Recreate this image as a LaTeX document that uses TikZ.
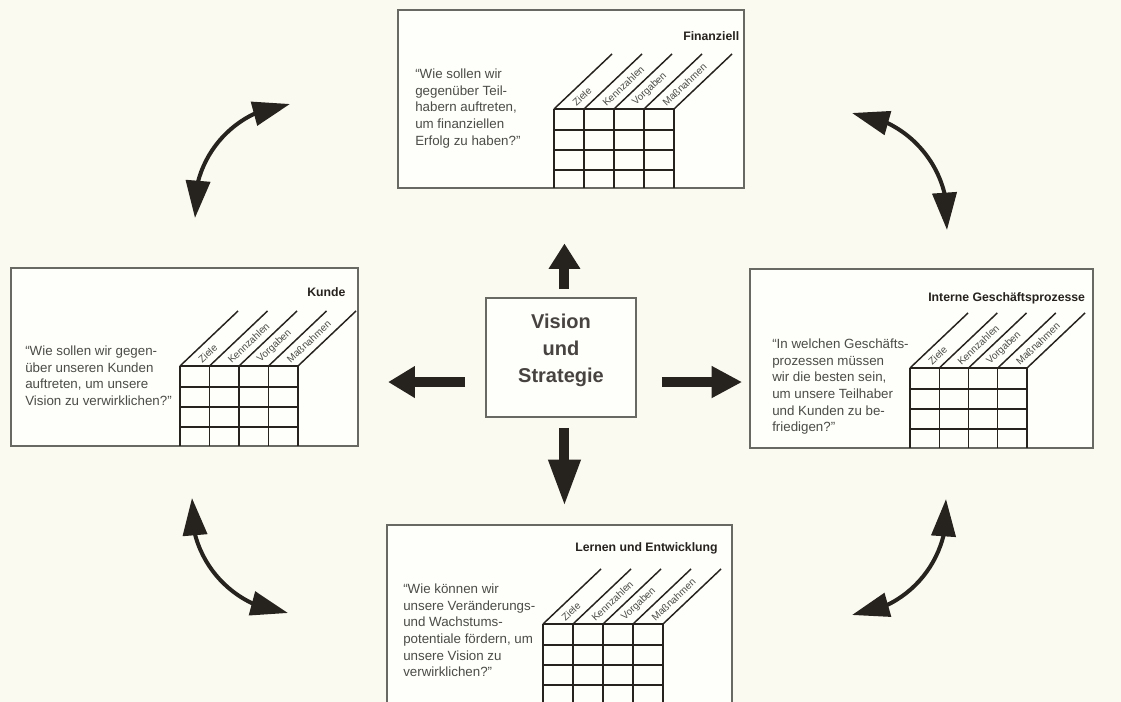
\documentclass[tikz,border=0pt]{standalone}
\usepackage{fontspec}
\setmainfont{Liberation Sans}
\usetikzlibrary{arrows.meta,fit,bending}
\definecolor{bgc}{RGB}{251,250,241}
\definecolor{boxfill}{RGB}{254,254,250}
\definecolor{ink}{RGB}{38,34,30}
\definecolor{boxline}{RGB}{105,105,100}
\definecolor{txt}{RGB}{75,75,72}
\tikzset{
  bscbox/.style={draw=boxline, line width=1.2pt, fill=boxfill, inner sep=0pt},
  visbox/.style={draw=boxline, line width=1.2pt, fill=boxfill, inner sep=0pt,
    align=center, font=\bfseries\fontsize{15}{20}\selectfont, text=ink!85},
  gridline/.style={draw=ink, line width=1.1pt},
  collabel/.style={anchor=west, rotate=43.5, inner sep=0pt, text=txt,
    font=\fontsize{7.5}{8}\selectfont},
  ttl/.style={inner sep=0pt, anchor=base west, text=ink, font=\bfseries\fontsize{9.2}{11}\selectfont},
  quest/.style={anchor=north west, inner sep=0pt, align=left, text=txt,
    font=\fontsize{10}{12.5}\selectfont},
  fat/.style={draw=ink, line width=7.5pt},
  curvy/.style={draw=ink, line width=3pt,
    {Triangle[length=28pt,width=18pt]}-{Triangle[length=28pt,width=18pt]}},
}
% #1 name, #2 X0, #3 T, #4 column width, #5 bottom
\newcommand\bscgrid[5]{%
  \foreach \i in {0,...,4} {\draw[gridline] ({#2+\i*#4},#3) -- ({#2+\i*#4},#5);}
  \foreach \r in {0,21,41,61} {\draw[gridline] (#2,{#3+\r}) -- ({#2+4*#4},{#3+\r});}
  \foreach \i in {0,...,4} {\draw[gridline] ({#2+\i*#4},#3) -- ++(58,-55);}
  \foreach \lab [count=\i from 0] in {Ziele,Kennzahlen,Vorgaben,Maßnahmen}
    {\node[collabel] (#1-c\i) at ({#2+\i*#4+#4/2+5},{#3-4.8}) {\lab};}
}
\begin{document}
\begin{tikzpicture}[x=0.75pt,y=-0.75pt]
\useasboundingbox (0,0) rectangle (1121,702);
\clip (0,0) rectangle (1121,702);
\fill[bgc] (0,0) rectangle (1121,702);

% perspective boxes
\node[bscbox, fit={(398,10)(744,188)}] (fin) {};
\node[bscbox, fit={(11,268)(358,446)}] (kun) {};
\node[bscbox, fit={(750,269)(1093,448)}] (int) {};
\node[bscbox, fit={(387,525)(732,715)}] (ler) {};

\bscgrid{fin}{554}{109}{30}{188}
\bscgrid{kun}{180}{366}{29.5}{446}
\bscgrid{int}{910}{368}{29.25}{448}
\bscgrid{ler}{543}{624}{30}{715}

\node[ttl] (fin-t) at (683,41) {Finanziell};
\node[ttl] (kun-t) at (307,297) {Kunde};
\node[ttl] (int-t) at (928,302) {Interne Geschäftsprozesse};
\node[ttl] (ler-t) at (575,551) {Lernen und Entwicklung};

\node[quest] (fin-q) at (415,68.5)
  {“Wie sollen wir\\gegenüber Teil-\\habern auftreten,\\um finanziellen\\Erfolg zu haben?”};
\node[quest] (kun-q) at (25,345.5)
  {“Wie sollen wir gegen-\\über unseren Kunden\\auftreten, um unsere\\Vision zu verwirklichen?”};
\node[quest] (int-q) at (772,338.5)
  {“In welchen Geschäfts-\\prozessen müssen\\wir die besten sein,\\um unsere Teilhaber\\und Kunden zu be-\\friedigen?”};
\node[quest] (ler-q) at (403,583.5)
  {“Wie können wir\\unsere Veränderungs-\\und Wachstums-\\potentiale fördern, um\\unsere Vision zu\\verwirklichen?”};

% centre
\node[visbox, fit={(486,298)(636,417)}] (vis) {Vision\\und\\Strategie};

% straight arrows
\draw[fat, shorten <=6pt, shorten >=41pt, -{Triangle[length=19pt,width=22.5pt]}]
  ([xshift=2.6pt]vis.north) -- ([xshift=2.6pt]vis.north |- fin.south);
\draw[fat, shorten <=7.5pt, shorten >=13.5pt, -{Triangle[length=35pt,width=22.5pt]}]
  ([xshift=2.6pt]vis.south) -- ([xshift=2.6pt]vis.south |- ler.north);
\draw[fat, shorten <=15pt, shorten >=22pt, -{Triangle[length=20pt,width=22.5pt]}]
  ([yshift=-18.4pt]vis.west) -- ([yshift=-18.4pt]vis.west -| kun.east);
\draw[fat, shorten <=18.75pt, shorten >=5.25pt, -{Triangle[length=23pt,width=22.5pt]}]
  ([yshift=-18.4pt]vis.east) -- ([yshift=-18.4pt]vis.east -| int.west);

% curved double arrows
\coordinate (tlA) at (195,218); \coordinate (tlB) at (290,104);
\coordinate (trA) at (852,113); \coordinate (trB) at (947,230);
\coordinate (brA) at (946,499); \coordinate (brB) at (852,615);
\coordinate (blA) at (288,613); \coordinate (blB) at (192,498);
\draw[curvy] (tlA) to[bend left=45] (tlB);
\draw[curvy] (trA) to[bend left=45] (trB);
\draw[curvy] (brA) to[bend left=45] (brB);
\draw[curvy] (blA) to[bend left=45] (blB);
\end{tikzpicture}
\end{document}
